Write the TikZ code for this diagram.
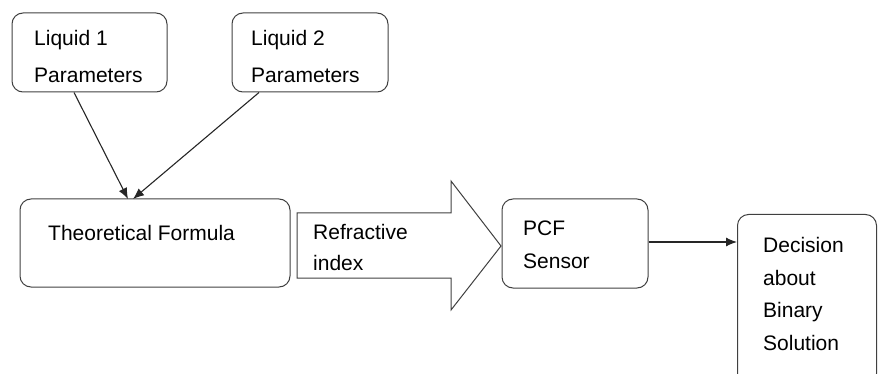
\documentclass[tikz,border=0pt]{standalone}
\usepackage{fontspec}
\setmainfont{Liberation Sans}
\usetikzlibrary{arrows.meta,calc}
\begin{document}
\begin{tikzpicture}[x=1pt,y=-1pt,
  box/.style={draw=black!75,line width=1pt,rounded corners=11pt,inner sep=0pt},
  txt/.style={anchor=west,align=left,inner sep=0pt,font=\fontsize{21}{35}\selectfont},
  conn/.style={draw=black!85,line width=1.1pt,-{Latex[length=11pt,width=9pt]}}]
\useasboundingbox (0,0) rectangle (878,374);
\clip (0,0) rectangle (878,374);
% boxes
\node[box,minimum width=155pt,minimum height=79pt] (l1) at (89.5,52.5) {};
\node[box,minimum width=156pt,minimum height=79pt] (l2) at (310,52.5) {};
\node[box,minimum width=270pt,minimum height=88pt] (tf) at (155,243) {};
\node[box,minimum width=146pt,minimum height=89pt] (pcf) at (575,243.5) {};
\node[box,minimum width=139pt,minimum height=170pt,anchor=north west] (dec) at (737,214) {};
% texts
\node[txt] (t1) at (34,56.5) {Liquid 1\\[2pt]Parameters};
\node[txt] (t2) at (251,56.5) {Liquid 2\\[2pt]Parameters};
\node[txt] (t3) at (48,233) {Theoretical Formula};
\node[txt,font=\fontsize{21}{33}\selectfont] (t5) at (523,244.5) {PCF\\Sensor};
\node[txt,font=\fontsize{21}{32.5}\selectfont] (t6) at (763,294) {Decision\\about\\Binary\\Solution};
% big arrow
\coordinate (a1) at (297,213);
\coordinate (a2) at (451,213);
\coordinate (a3) at (451,181);
\coordinate (a4) at (501,246);
\coordinate (a5) at (451,310);
\coordinate (a6) at (451,278);
\coordinate (a7) at (297,278);
\draw[draw=black!75,line width=1pt,line join=miter] (a1) -- (a2) -- (a3) -- (a4) -- (a5) -- (a6) -- (a7) -- cycle;
\node[txt,font=\fontsize{21}{31}\selectfont] (t4) at (313,247.5) {Refractive\\index};
% connectors
\coordinate (e1) at (128,199);
\coordinate (e2) at (133,199);
\draw[conn] (74,92.5) -- (e1);
\draw[conn] (259,92.5) -- (e2);
\draw[conn] (pcf.east |- 0,242) -- (dec.west |- 0,242);
\end{tikzpicture}
\end{document}
